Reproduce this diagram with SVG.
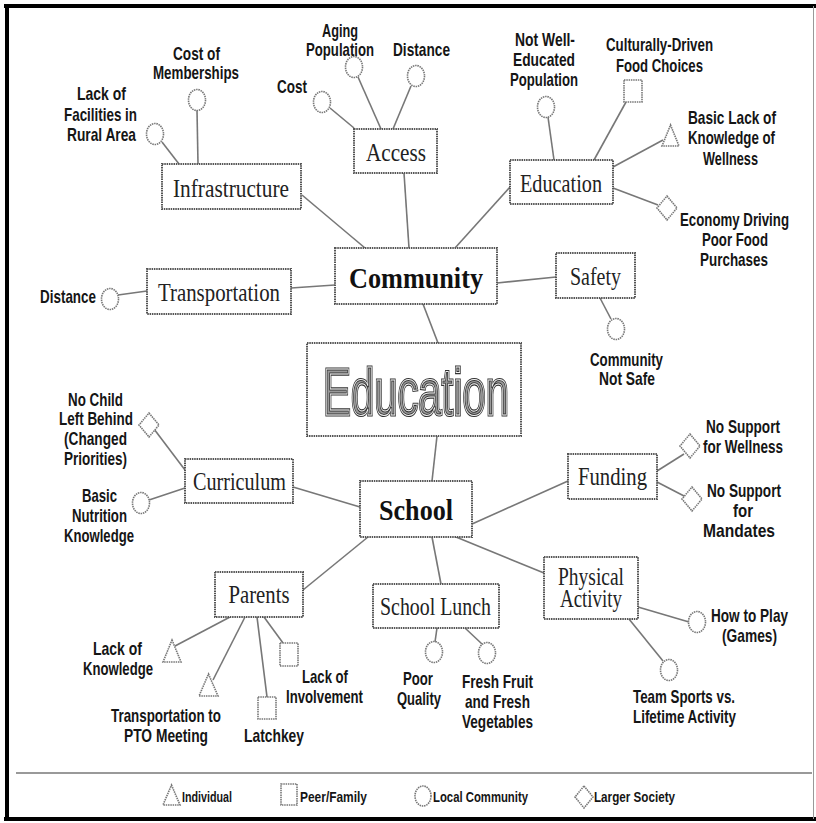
<svg xmlns="http://www.w3.org/2000/svg" width="816" height="823" viewBox="0 0 816 823">
<style>
.lbl{font-family:"Liberation Sans Narrow","Liberation Sans",Arial,sans-serif;font-weight:bold;font-size:19px;fill:#151515;text-anchor:middle}
.leg{font-family:"Liberation Sans Narrow","Liberation Sans",Arial,sans-serif;font-weight:bold;font-size:15px;fill:#151515}
.bx{fill:#fff;stroke:#555;stroke-width:2;stroke-dasharray:1.5 0.8}
.bt{font-family:"Liberation Serif","Times New Roman",serif;font-size:25px;fill:#222;text-anchor:middle}
.bb{font-family:"Liberation Serif","Times New Roman",serif;font-size:29px;font-weight:bold;fill:#111;text-anchor:middle}
.shp{fill:#fff;stroke:#777;stroke-width:1.6;stroke-dasharray:1.5 0.8}
.con line{stroke:#777;stroke-width:1.6}
.frame{stroke:#000;stroke-width:4;fill:none}
</style>
<rect x="0" y="0" width="816" height="823" fill="#fff"/>
<g id="frame">
<path class="frame" d="M4 6H816M7 4V821M4 819H816"/>
<line x1="813.5" y1="6" x2="813.5" y2="819" stroke="#999" stroke-width="1"/>
<line x1="16" y1="773" x2="812" y2="773" stroke="#777" stroke-width="1.6"/>
</g>
<g id="connectors" class="con">
<line x1="302" y1="195" x2="365" y2="248"/>
<line x1="404" y1="173" x2="409" y2="248"/>
<line x1="510" y1="187" x2="455" y2="248"/>
<line x1="162" y1="142" x2="179" y2="164"/>
<line x1="197" y1="110" x2="198" y2="164"/>
<line x1="330" y1="108" x2="354" y2="128"/>
<line x1="358" y1="77" x2="381" y2="129"/>
<line x1="411" y1="86" x2="393" y2="129"/>
<line x1="548" y1="117" x2="554" y2="160"/>
<line x1="626" y1="102" x2="594" y2="160"/>
<line x1="663" y1="140" x2="613" y2="167"/>
<line x1="613" y1="188" x2="658" y2="205"/>
<line x1="291" y1="288" x2="335" y2="285"/>
<line x1="118" y1="295" x2="147" y2="291"/>
<line x1="497" y1="283" x2="556" y2="277"/>
<line x1="600" y1="298" x2="611" y2="319"/>
<line x1="423" y1="304" x2="438" y2="343"/>
<line x1="437" y1="436" x2="432" y2="481"/>
<line x1="154" y1="429" x2="185" y2="470"/>
<line x1="149" y1="500" x2="185" y2="488"/>
<line x1="293" y1="487" x2="360" y2="507"/>
<line x1="472" y1="524" x2="568" y2="481"/>
<line x1="657" y1="471" x2="684" y2="454"/>
<line x1="657" y1="482" x2="686" y2="497"/>
<line x1="368" y1="537" x2="303" y2="590"/>
<line x1="432" y1="537" x2="441" y2="584"/>
<line x1="456" y1="537" x2="544" y2="573"/>
<line x1="230" y1="617" x2="175" y2="646"/>
<line x1="245" y1="617" x2="213" y2="680"/>
<line x1="257" y1="617" x2="267" y2="697"/>
<line x1="264" y1="617" x2="283" y2="643"/>
<line x1="437" y1="628" x2="435" y2="642"/>
<line x1="465" y1="628" x2="482" y2="644"/>
<line x1="638" y1="607" x2="689" y2="622"/>
<line x1="629" y1="619" x2="663" y2="661"/>
</g>
<g id="edu-center">
<rect class="bx" x="307" y="343" width="214" height="93"/>
<text x="416" y="415" font-family="'Liberation Sans Narrow','Liberation Sans',Arial,sans-serif" font-size="66" text-anchor="middle" textLength="186" lengthAdjust="spacingAndGlyphs" fill="#999" stroke="#333" stroke-width="3.2">Education</text>
<text x="416" y="415" font-family="'Liberation Sans Narrow','Liberation Sans',Arial,sans-serif" font-size="66" text-anchor="middle" textLength="186" lengthAdjust="spacingAndGlyphs" fill="none" stroke="#f4f4f4" stroke-width="1">Education</text>
</g>
<g id="community"><rect class="bx" x="335" y="248" width="162" height="56"/><text class="bb" x="416" y="288" textLength="134" lengthAdjust="spacingAndGlyphs">Community</text></g>
<g id="school"><rect class="bx" x="360" y="481" width="112" height="56"/><text class="bb" x="416" y="520" textLength="74" lengthAdjust="spacingAndGlyphs">School</text></g>
<g id="infrastructure"><rect class="bx" x="162" y="164" width="139" height="45"/><text class="bt" x="231" y="197" textLength="116" lengthAdjust="spacingAndGlyphs">Infrastructure</text></g>
<g id="access"><rect class="bx" x="354" y="129" width="83" height="44"/><text class="bt" x="396" y="161" textLength="60" lengthAdjust="spacingAndGlyphs">Access</text></g>
<g id="education"><rect class="bx" x="510" y="160" width="103" height="44"/><text class="bt" x="561" y="192" textLength="82" lengthAdjust="spacingAndGlyphs">Education</text></g>
<g id="transportation"><rect class="bx" x="147" y="269" width="144" height="45"/><text class="bt" x="219" y="301" textLength="122" lengthAdjust="spacingAndGlyphs">Transportation</text></g>
<g id="safety"><rect class="bx" x="556" y="253" width="79" height="45"/><text class="bt" x="595.5" y="285" textLength="51" lengthAdjust="spacingAndGlyphs">Safety</text></g>
<g id="curriculum"><rect class="bx" x="185" y="459" width="108" height="44"/><text class="bt" x="239.5" y="490" textLength="93" lengthAdjust="spacingAndGlyphs">Curriculum</text></g>
<g id="funding"><rect class="bx" x="568" y="454" width="89" height="45"/><text class="bt" x="612.5" y="485" textLength="69" lengthAdjust="spacingAndGlyphs">Funding</text></g>
<g id="parents"><rect class="bx" x="215" y="572" width="88" height="45"/><text class="bt" x="259" y="603" textLength="61" lengthAdjust="spacingAndGlyphs">Parents</text></g>
<g id="school-lunch"><rect class="bx" x="373" y="584" width="126" height="44"/><text class="bt" x="435.5" y="615" textLength="111" lengthAdjust="spacingAndGlyphs">School Lunch</text></g>
<g id="physical-activity"><rect class="bx" x="544" y="557" width="94" height="62"/><text class="bt" x="591" y="585" textLength="66" lengthAdjust="spacingAndGlyphs">Physical</text><text class="bt" x="591" y="607" textLength="62" lengthAdjust="spacingAndGlyphs">Activity</text></g>

<g id="lack-facilities"><ellipse class="shp" cx="155" cy="134" rx="8.5" ry="10.5"/><text class="lbl" x="101.5" y="100" textLength="49" lengthAdjust="spacingAndGlyphs">Lack of</text><text class="lbl" x="100.5" y="121" textLength="73" lengthAdjust="spacingAndGlyphs">Facilities in</text><text class="lbl" x="101.5" y="141" textLength="69" lengthAdjust="spacingAndGlyphs">Rural Area</text></g>
<g id="cost-memberships"><ellipse class="shp" cx="197" cy="100" rx="8.5" ry="10.5"/><text class="lbl" x="196.5" y="60" textLength="47" lengthAdjust="spacingAndGlyphs">Cost of</text><text class="lbl" x="196" y="79" textLength="86" lengthAdjust="spacingAndGlyphs">Memberships</text></g>
<g id="cost"><ellipse class="shp" cx="322" cy="102" rx="8.5" ry="10.5"/><text class="lbl" x="292" y="93" textLength="30" lengthAdjust="spacingAndGlyphs">Cost</text></g>
<g id="aging"><ellipse class="shp" cx="354" cy="67" rx="8.5" ry="10.5"/><text class="lbl" x="340" y="37" textLength="36" lengthAdjust="spacingAndGlyphs">Aging</text><text class="lbl" x="340" y="56" textLength="68" lengthAdjust="spacingAndGlyphs">Population</text></g>
<g id="distance-access"><ellipse class="shp" cx="416" cy="76" rx="8.5" ry="10.5"/><text class="lbl" x="421.5" y="56" textLength="57" lengthAdjust="spacingAndGlyphs">Distance</text></g>
<g id="not-well-educated"><ellipse class="shp" cx="546" cy="107" rx="8.5" ry="10.5"/><text class="lbl" x="545" y="46" textLength="60" lengthAdjust="spacingAndGlyphs">Not Well-</text><text class="lbl" x="544" y="66" textLength="62" lengthAdjust="spacingAndGlyphs">Educated</text><text class="lbl" x="544" y="86" textLength="68" lengthAdjust="spacingAndGlyphs">Population</text></g>
<g id="culturally-driven"><rect class="shp" x="624" y="80" width="18" height="22"/><text class="lbl" x="659.5" y="51" textLength="107" lengthAdjust="spacingAndGlyphs">Culturally-Driven</text><text class="lbl" x="659.5" y="72" textLength="87" lengthAdjust="spacingAndGlyphs">Food Choices</text></g>
<g id="basic-lack"><polygon class="shp" points="670.5,125 679,146 662,146"/><text class="lbl" x="732" y="124" textLength="88" lengthAdjust="spacingAndGlyphs">Basic Lack of</text><text class="lbl" x="731.5" y="144" textLength="87" lengthAdjust="spacingAndGlyphs">Knowledge of</text><text class="lbl" x="730.5" y="165" textLength="55" lengthAdjust="spacingAndGlyphs">Wellness</text></g>
<g id="economy"><polygon class="shp" points="667,196 677,208 667,220 657,208"/><text class="lbl" x="734.5" y="226" textLength="109" lengthAdjust="spacingAndGlyphs">Economy Driving</text><text class="lbl" x="735" y="246" textLength="66" lengthAdjust="spacingAndGlyphs">Poor Food</text><text class="lbl" x="734" y="266" textLength="68" lengthAdjust="spacingAndGlyphs">Purchases</text></g>
<g id="distance-transport"><ellipse class="shp" cx="110" cy="299" rx="8.5" ry="10.5"/><text class="lbl" x="68" y="303" textLength="56" lengthAdjust="spacingAndGlyphs">Distance</text></g>
<g id="community-not-safe"><ellipse class="shp" cx="616" cy="329" rx="8.5" ry="10.5"/><text class="lbl" x="626.5" y="366" textLength="73" lengthAdjust="spacingAndGlyphs">Community</text><text class="lbl" x="627" y="385" textLength="56" lengthAdjust="spacingAndGlyphs">Not Safe</text></g>
<g id="no-child"><polygon class="shp" points="149,413 159,425 149,437 139,425"/><text class="lbl" x="95.5" y="406" textLength="55" lengthAdjust="spacingAndGlyphs">No Child</text><text class="lbl" x="96" y="425" textLength="74" lengthAdjust="spacingAndGlyphs">Left Behind</text><text class="lbl" x="95.5" y="445" textLength="63" lengthAdjust="spacingAndGlyphs">(Changed</text><text class="lbl" x="95.5" y="465" textLength="63" lengthAdjust="spacingAndGlyphs">Priorities)</text></g>
<g id="basic-nutrition"><ellipse class="shp" cx="141" cy="503" rx="8.5" ry="10.5"/><text class="lbl" x="99.5" y="502" textLength="35" lengthAdjust="spacingAndGlyphs">Basic</text><text class="lbl" x="99.5" y="522" textLength="55" lengthAdjust="spacingAndGlyphs">Nutrition</text><text class="lbl" x="99" y="542" textLength="70" lengthAdjust="spacingAndGlyphs">Knowledge</text></g>
<g id="no-support-wellness"><polygon class="shp" points="690,434 700,446 690,458 680,446"/><text class="lbl" x="743" y="433" textLength="74" lengthAdjust="spacingAndGlyphs">No Support</text><text class="lbl" x="743" y="453" textLength="80" lengthAdjust="spacingAndGlyphs">for Wellness</text></g>
<g id="no-support-mandates"><polygon class="shp" points="692,487 702,499 692,511 682,499"/><text class="lbl" x="744" y="497" textLength="74" lengthAdjust="spacingAndGlyphs">No Support</text><text class="lbl" x="743" y="517" textLength="20" lengthAdjust="spacingAndGlyphs">for</text><text class="lbl" x="739" y="537" textLength="72" lengthAdjust="spacingAndGlyphs">Mandates</text></g>
<g id="lack-knowledge"><polygon class="shp" points="172,640 181,662 163,662"/><text class="lbl" x="117.5" y="655" textLength="49" lengthAdjust="spacingAndGlyphs">Lack of</text><text class="lbl" x="118" y="675" textLength="70" lengthAdjust="spacingAndGlyphs">Knowledge</text></g>
<g id="transport-pto"><polygon class="shp" points="208.5,674 218,696 199,696"/><text class="lbl" x="166" y="722" textLength="110" lengthAdjust="spacingAndGlyphs">Transportation to</text><text class="lbl" x="166" y="742" textLength="84" lengthAdjust="spacingAndGlyphs">PTO Meeting</text></g>
<g id="latchkey"><rect class="shp" x="258" y="697" width="18" height="22"/><text class="lbl" x="274" y="742" textLength="60" lengthAdjust="spacingAndGlyphs">Latchkey</text></g>
<g id="lack-involvement"><rect class="shp" x="280" y="643" width="18" height="23"/><text class="lbl" x="325" y="683" textLength="46" lengthAdjust="spacingAndGlyphs">Lack of</text><text class="lbl" x="324.5" y="703" textLength="77" lengthAdjust="spacingAndGlyphs">Involvement</text></g>
<g id="poor-quality"><ellipse class="shp" cx="434" cy="652" rx="8.5" ry="10.5"/><text class="lbl" x="418" y="685" textLength="30" lengthAdjust="spacingAndGlyphs">Poor</text><text class="lbl" x="419" y="705" textLength="44" lengthAdjust="spacingAndGlyphs">Quality</text></g>
<g id="fresh-fruit"><ellipse class="shp" cx="487" cy="653" rx="8.5" ry="10.5"/><text class="lbl" x="497.5" y="688" textLength="71" lengthAdjust="spacingAndGlyphs">Fresh Fruit</text><text class="lbl" x="497.5" y="708" textLength="65" lengthAdjust="spacingAndGlyphs">and Fresh</text><text class="lbl" x="497.5" y="728" textLength="71" lengthAdjust="spacingAndGlyphs">Vegetables</text></g>
<g id="how-to-play"><ellipse class="shp" cx="697" cy="622" rx="8.5" ry="10.5"/><text class="lbl" x="749.5" y="622" textLength="77" lengthAdjust="spacingAndGlyphs">How to Play</text><text class="lbl" x="749.5" y="642" textLength="55" lengthAdjust="spacingAndGlyphs">(Games)</text></g>
<g id="team-sports"><ellipse class="shp" cx="669" cy="670" rx="8.5" ry="10.5"/><text class="lbl" x="684" y="703" textLength="102" lengthAdjust="spacingAndGlyphs">Team Sports vs.</text><text class="lbl" x="684.5" y="723" textLength="103" lengthAdjust="spacingAndGlyphs">Lifetime Activity</text></g>

<g id="legend">
<polygon class="shp" points="171.5,785 180,805 163,805"/><text class="leg" x="182" y="802" textLength="50" lengthAdjust="spacingAndGlyphs">Individual</text>
<rect class="shp" x="281" y="784" width="16" height="21"/><text class="leg" x="300" y="802" textLength="67" lengthAdjust="spacingAndGlyphs">Peer/Family</text>
<ellipse class="shp" cx="423" cy="796" rx="8" ry="10"/><text class="leg" x="433" y="802" textLength="95" lengthAdjust="spacingAndGlyphs">Local Community</text>
<polygon class="shp" points="584,786 593,797 584,808 575,797"/><text class="leg" x="594" y="802" textLength="81" lengthAdjust="spacingAndGlyphs">Larger Society</text>
</g>
</svg>
